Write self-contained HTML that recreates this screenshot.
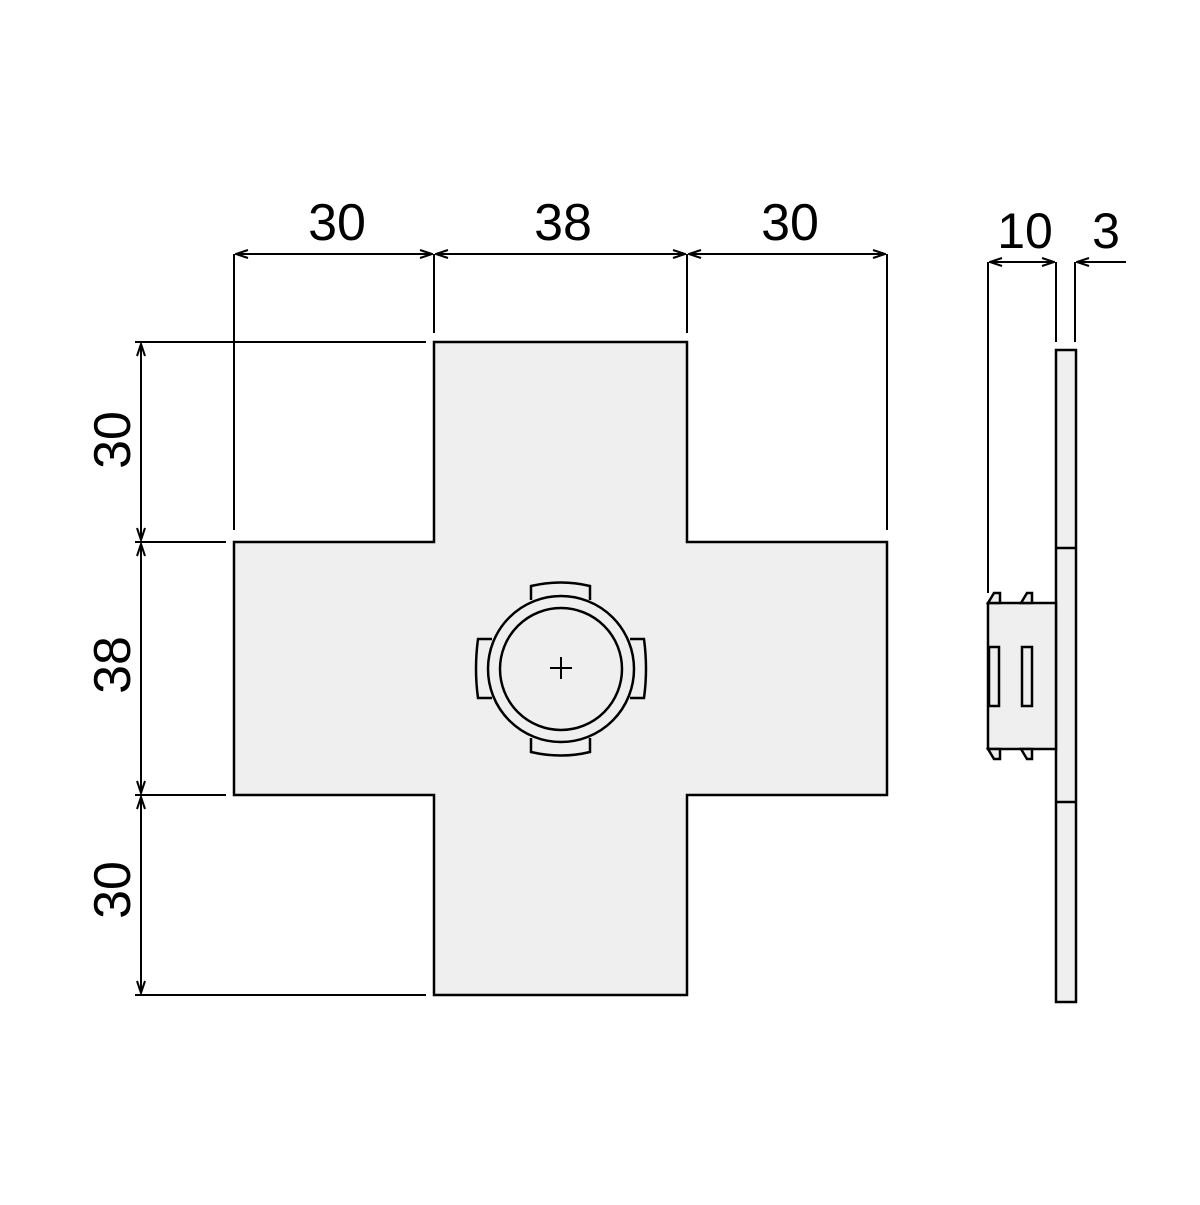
<!DOCTYPE html><html><head><style>body{margin:0;background:#fff}</style></head><body>
<svg width="1200" height="1200" xmlns="http://www.w3.org/2000/svg" font-family="Liberation Sans, sans-serif">
<defs><marker id="a" markerWidth="14" markerHeight="10" refX="13" refY="5" orient="auto-start-reverse" markerUnits="userSpaceOnUse"><path d="M1,1 L13,5 L1,9" fill="none" stroke="#000" stroke-width="2"/></marker></defs>
<g stroke="#000" stroke-width="2.5" fill="none">
<path d="M434,342 H687 V542 H887 V795 H687 V995 H434 V795 H234 V542 H434 Z" fill="#efefef"/>
<!-- top dims -->
<path d="M234,254 V530 M434,254 V333 M687,254 V333 M887,254 V530" stroke-width="2"/>
<path d="M236,254 H432" marker-start="url(#a)" marker-end="url(#a)" stroke-width="2"/>
<path d="M436,254 H685" marker-start="url(#a)" marker-end="url(#a)" stroke-width="2"/>
<path d="M689,254 H885" marker-start="url(#a)" marker-end="url(#a)" stroke-width="2"/>
<!-- left dims -->
<path d="M135,342 H426 M135,542 H226 M135,795 H226 M135,995 H426" stroke-width="2"/>
<path d="M141,344 V540" marker-start="url(#a)" marker-end="url(#a)" stroke-width="2"/>
<path d="M141,544 V793" marker-start="url(#a)" marker-end="url(#a)" stroke-width="2"/>
<path d="M141,797 V993" marker-start="url(#a)" marker-end="url(#a)" stroke-width="2"/>
<!-- connector -->
<path d="M531,600 V586 Q561,579 590,586 V600" fill="#efefef"/>
<path d="M531,738 V752 Q561,759 590,752 V738" fill="#efefef"/>
<path d="M492,639 H478 Q474,669 478,698 H492" fill="#efefef"/>
<path d="M630,639 H644 Q648,669 644,698 H630" fill="#efefef"/>
<circle cx="561" cy="669" r="73" fill="#efefef"/>
<circle cx="561" cy="669" r="61"/>
<path d="M550,668 H572 M561,657 V679" stroke-width="2"/>
<!-- side view -->
<rect x="1056" y="350" width="20" height="652" fill="#efefef"/>
<path d="M1056,548 H1076 M1056,802 H1076"/>
<rect x="988" y="603" width="68" height="146" fill="#efefef"/>
<path d="M988,603 L994,593 H1000 V603 Z M1021,603 L1027,593 H1032 V603 Z M988,749 L994,759 H1000 V749 Z M1021,749 L1027,759 H1032 V749 Z" fill="#efefef" stroke-width="2.5"/>
<rect x="989" y="647" width="10" height="59"/><rect x="1022" y="647" width="10" height="59"/>
<path d="M988,262 V593 M1056,262 V342 M1075,262 V342" stroke-width="2"/>
<path d="M990,262 H1054" marker-start="url(#a)" marker-end="url(#a)" stroke-width="2"/>
<path d="M1126,262 H1077" marker-end="url(#a)" stroke-width="2"/>
</g>
<g font-size="52" text-anchor="middle" fill="#000">
<text x="337" y="240">30</text><text x="563" y="240">38</text><text x="790" y="240">30</text>
<text x="1025" y="248" font-size="50">10</text><text x="1106" y="248" font-size="50">3</text>
<text transform="translate(130,440) rotate(-90)">30</text>
<text transform="translate(130,665) rotate(-90)">38</text>
<text transform="translate(130,890) rotate(-90)">30</text>
</g>
</svg></body></html>
